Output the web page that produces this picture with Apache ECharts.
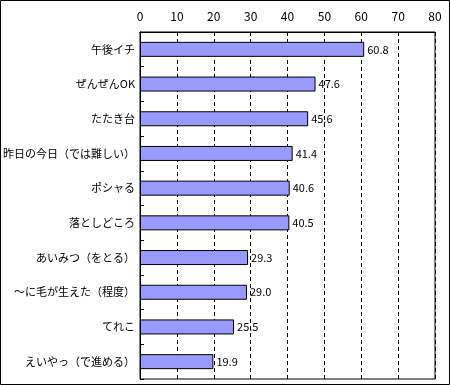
<!DOCTYPE html>
<html><head><meta charset="utf-8">
<script src="https://cdn.jsdelivr.net/npm/echarts@6/dist/echarts.min.js"></script>
<style>html,body{margin:0;padding:0;background:#fff}#c{width:450px;height:385px}</style>
</head><body><div id="c"></div>
<script>
const categories = ['午後イチ','ぜんぜんOK','たたき台','昨日の今日（では難しい）','ポシャる','落としどころ','あいみつ（をとる）','～に毛が生えた（程度）','てれこ','えいやっ（で進める）'];
const values = [60.8, 47.6, 45.6, 41.4, 40.6, 40.5, 29.3, 29.0, 25.5, 19.9];
const xTicks = [0, 10, 20, 30, 40, 50, 60, 70, 80];

const font = '"Noto Sans CJK JP", sans-serif';
const chart = echarts.init(document.getElementById('c'));
chart.setOption({
  animation: false,
  backgroundColor: '#fff',
  graphic: [{type:'rect', shape:{x:0.5,y:0.5,width:449,height:384}, style:{fill:'none',stroke:'#000',lineWidth:1}, z:100}],
  grid: {left:140, right:15, top:32, bottom:6, containLabel:false, outerBoundsMode:'none', show:true, borderColor:'#000', borderWidth:1, backgroundColor:'#fff'},
  xAxis: {
    type:'value', position:'top', min:xTicks[0], max:xTicks[xTicks.length-1], interval:10,
    axisLine:{show:true, lineStyle:{color:'#000'}},
    axisTick:{show:true, inside:true, length:4, lineStyle:{color:'#000'}},
    axisLabel:{color:'#000', fontSize:12, fontFamily:font, margin:10},
    splitLine:{show:true, lineStyle:{color:'#000', type:[4,3], width:1}}
  },
  yAxis: {
    type:'category', data:categories, inverse:true,
    axisLine:{show:true, lineStyle:{color:'#000'}},
    axisTick:{show:true, inside:true, length:4, lineStyle:{color:'#000'}},
    axisLabel:{color:'#000', fontSize:11, fontFamily:font, margin:5},
    splitLine:{show:false}
  },
  series: [{
    type:'bar', data:values, barWidth:15,
    itemStyle:{color:'#9999FF', borderColor:'#000', borderWidth:1},
    label:{show:true, position:'right', distance:3, color:'#000', fontSize:11, fontFamily:font, formatter:p=>p.value.toFixed(1)}
  }]
});
</script></body></html>
